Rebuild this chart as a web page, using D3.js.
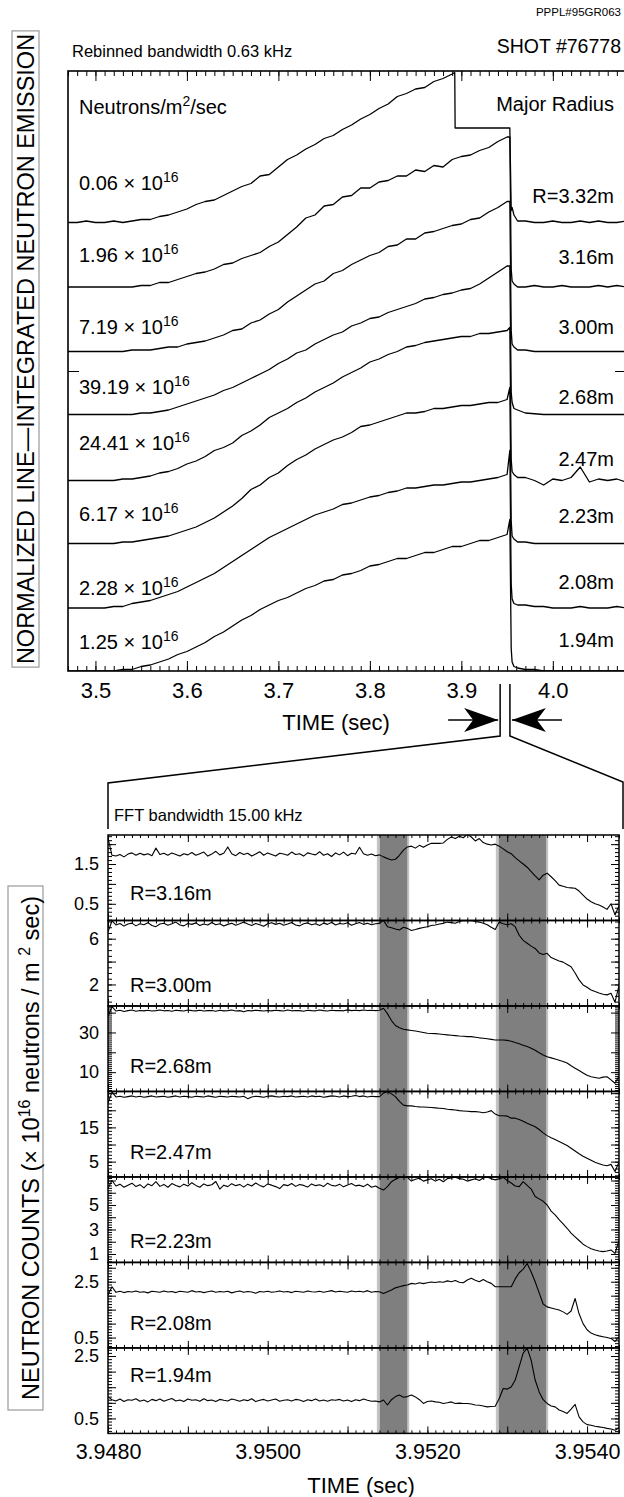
<!DOCTYPE html>
<html>
<head>
<meta charset="utf-8">
<script src="https://cdn.jsdelivr.net/npm/d3@7"></script>
<style>
  body { margin: 0; background: #fff; }
  svg text { font-family: "Liberation Sans", Arial, Helvetica, sans-serif; fill: #000; }
</style>
</head>
<body>
<script>
/* global d3 */
(function () {
  'use strict'

  // ---------- top plot: normalized line-integrated emission ----------
  var channels = ['R=3.32m', '3.16m', '3.00m', '2.68m', '2.47m', '2.23m', '2.08m', '1.94m']
  var peakFlux = ['0.06', '1.96', '7.19', '39.19', '24.41', '6.17', '2.28', '1.25']
  var baseOffsets = [2.99, 2.56, 2.13, 1.71, 1.27, 0.85, 0.42, 0]
  var riseStart = 3.47
  var riseStep = 0.01
  var dropTimes = [3.9530, 3.9545, 3.9555, 3.9575, 3.9615]
  var tailStart = 3.97
  var tailStep = 0.01
  var topMajor = [3.5, 3.6, 3.7, 3.8, 3.9, 4.0]
  var zoomMarks = [3.9424, 3.9531]

  var riseR332 = [0, 0, 0.01, 0, 0, 0.01, 0, 0.01, 0.02, 0.02, 0.04, 0.05, 0.07, 0.09, 0.12, 0.14, 0.15, 0.18, 0.21, 0.24, 0.26, 0.31, 0.32, 0.37, 0.42, 0.45, 0.49, 0.52, 0.56, 0.58, 0.62, 0.65, 0.69, 0.72, 0.76, 0.79, 0.84, 0.86, 0.89, 0.9, 0.94, 0.96, 0.99, 0.63, 0.63, 0.63, 0.63, 0.63, 0.63]
  var clipStepR332 = [[3.8928, 1.0], [3.8932, 0.63]]
  var riseR316 = [0, 0, 0, 0, 0, 0, 0, 0, 0.01, 0.01, 0.03, 0.03, 0.05, 0.07, 0.09, 0.1, 0.12, 0.15, 0.16, 0.19, 0.21, 0.23, 0.27, 0.3, 0.35, 0.4, 0.46, 0.48, 0.54, 0.55, 0.6, 0.61, 0.66, 0.66, 0.7, 0.71, 0.74, 0.74, 0.78, 0.77, 0.81, 0.8, 0.85, 0.87, 0.88, 0.91, 0.93, 0.97, 1.0]
  var riseR300 = [0, 0, 0, 0, 0, 0, 0, 0.01, 0.01, 0.01, 0.02, 0.03, 0.03, 0.05, 0.06, 0.07, 0.09, 0.11, 0.14, 0.15, 0.19, 0.21, 0.25, 0.28, 0.33, 0.37, 0.41, 0.45, 0.47, 0.52, 0.54, 0.58, 0.61, 0.64, 0.66, 0.7, 0.71, 0.75, 0.75, 0.79, 0.8, 0.82, 0.84, 0.85, 0.88, 0.89, 0.93, 0.96, 1.0]
  var riseR268 = [0, 0, 0, 0, 0, 0, 0, 0, 0.01, 0.01, 0.02, 0.03, 0.05, 0.07, 0.09, 0.11, 0.13, 0.16, 0.18, 0.21, 0.24, 0.27, 0.3, 0.34, 0.37, 0.41, 0.43, 0.47, 0.5, 0.53, 0.55, 0.59, 0.61, 0.64, 0.65, 0.68, 0.7, 0.72, 0.74, 0.77, 0.78, 0.8, 0.81, 0.83, 0.84, 0.87, 0.91, 0.95, 0.99]
  var riseR247 = [0, 0, 0, 0, 0, 0, 0.01, 0.01, 0.02, 0.03, 0.05, 0.06, 0.08, 0.11, 0.13, 0.16, 0.2, 0.22, 0.25, 0.3, 0.33, 0.37, 0.42, 0.45, 0.48, 0.52, 0.55, 0.59, 0.62, 0.65, 0.69, 0.72, 0.75, 0.79, 0.81, 0.84, 0.86, 0.89, 0.9, 0.92, 0.93, 0.94, 0.95, 0.96, 0.96, 0.98, 0.98, 0.99, 1.0]
  var riseR223 = [0, 0, 0, 0, 0, 0, 0.01, 0.01, 0.02, 0.03, 0.04, 0.05, 0.07, 0.09, 0.11, 0.14, 0.17, 0.21, 0.25, 0.3, 0.36, 0.39, 0.44, 0.47, 0.52, 0.56, 0.59, 0.63, 0.66, 0.69, 0.71, 0.74, 0.78, 0.79, 0.81, 0.83, 0.85, 0.87, 0.87, 0.88, 0.9, 0.9, 0.91, 0.92, 0.92, 0.93, 0.94, 0.94, 0.96]
  var riseR208 = [0, 0, 0, 0, 0, 0.01, 0.01, 0.03, 0.04, 0.05, 0.07, 0.09, 0.11, 0.14, 0.17, 0.2, 0.23, 0.27, 0.31, 0.35, 0.39, 0.43, 0.47, 0.5, 0.53, 0.56, 0.59, 0.62, 0.64, 0.66, 0.69, 0.7, 0.72, 0.74, 0.75, 0.77, 0.78, 0.8, 0.8, 0.81, 0.82, 0.82, 0.83, 0.84, 0.84, 0.85, 0.86, 0.87, 0.89]
  var riseR194 = [0, 0, 0, 0, 0, 0, 0.01, 0.01, 0.03, 0.04, 0.06, 0.08, 0.11, 0.13, 0.16, 0.19, 0.23, 0.26, 0.3, 0.34, 0.37, 0.41, 0.44, 0.47, 0.49, 0.52, 0.55, 0.57, 0.6, 0.61, 0.64, 0.65, 0.67, 0.7, 0.71, 0.73, 0.75, 0.75, 0.77, 0.79, 0.79, 0.81, 0.83, 0.83, 0.85, 0.87, 0.87, 0.89, 0.91]

  var dropR332 = [0.63, 0.08, 0.1, 0.05, 0.01]
  var dropR316 = [1.0, 0.12, 0.04, 0.02, 0.0]
  var dropR300 = [1.0, 0.14, 0.05, 0.03, 0.01]
  var dropR268 = [0.99, 0.15, 0.08, 0.04, 0.03]
  var dropR247 = [1.02, 0.14, 0.06, 0.04, 0.02]
  var dropR223 = [1.04, 0.15, 0.05, 0.03, 0.01]
  var dropR208 = [1.05, 0.16, 0.06, 0.03, 0.02]
  var dropR194 = [1.01, 0.15, 0.06, 0.03, 0.02]

  var tailR332 = [0.01, 0, 0, 0.01, 0, 0, 0.01, 0, 0.01, 0, 0, 0.01]
  var tailR316 = [0, 0.01, 0, 0, 0.01, 0, 0, 0, 0.01, 0, 0.01, 0]
  var tailR300 = [0.01, 0, 0, 0, 0, 0, 0, 0, 0, 0, 0, 0]
  var tailR268 = [0.01, 0.005, 0, 0, 0, 0, 0, 0, 0, 0, 0, 0]
  var tailR247 = [0.02, 0, -0.03, 0.01, 0, 0.02, 0.09, -0.01, 0.01, 0, 0.01, -0.01]
  var tailR223 = [0.01, 0, 0, 0, 0, 0, 0, 0, 0, 0, 0, 0]
  var tailR208 = [0.02, 0.01, 0.01, 0, 0, 0, 0.01, 0, 0, 0, 0.01, 0]
  var tailR194 = [0.01, 0.01, 0, 0, 0, 0, 0, 0, 0, 0, 0, 0]

  // ---------- bottom plot: FFT-filtered counts (x 10^16 n/m^2/s) ----------
  var fftRadii = ['R=3.16m', 'R=3.00m', 'R=2.68m', 'R=2.47m', 'R=2.23m', 'R=2.08m', 'R=1.94m']
  var fftStart = 3.9480
  var fftStep = 0.00005
  var fftDomain = [3.9480, 3.9544]
  var fftLabels = [3.948, 3.950, 3.952, 3.954]
  var panelDomains = [[0.08, 2.23], [0.12, 7.59], [0.28, 43.35], [0.53, 25.5], [0.31, 7.29], [0.13, 3.19], [0.02, 2.76]]
  var panelMajor = [0.5, 2, 10, 5, 1, 0.5, 0.5]
  var panelMinor = [0.1, 0.5, 1, 1, 0.2, 0.1, 0.1]
  var panelTickLabels = [[0.5, 1.5], [2, 6], [10, 30], [5, 15], [1, 3, 5], [0.5, 2.5], [0.5, 2.5]]
  var shadedBands = [[3.95138, 3.95176], [3.95287, 3.95350]]

  var fftR316 = [2.15, 1.72,
    1.70, 1.74, 1.68, 1.75, 1.78, 1.72, 1.77, 1.73, 1.76, 1.71,
    1.90, 1.74, 1.77, 1.72, 1.78, 1.74, 1.70, 1.76, 1.73, 1.79,
    1.72, 1.76, 1.80, 1.70, 1.75, 1.82, 1.73, 1.77, 1.93, 1.76,
    1.71, 1.79, 1.74, 1.77, 1.70, 1.75, 1.81, 1.72, 1.78, 1.74,
    1.70, 1.77, 1.75, 1.72, 1.80, 1.74, 1.76, 1.70, 1.78, 1.75,
    1.73, 1.81, 1.72, 1.76, 1.69, 1.78, 1.73, 1.80, 1.71, 1.77,
    1.75, 1.92, 1.76, 1.72, 1.75, 1.71,
    1.73, 1.68, 1.64, 1.60, 1.62, 1.72, 1.85, 1.93,
    1.95, 1.90, 1.97, 1.92, 1.98, 2.02, 2.02, 2.02, 2.03, 2.12,
    2.18, 2.14, 2.20, 2.16, 2.25, 2.18, 2.08, 2.14, 2.04, 2.00,
    1.98, 2.00, 1.95, 1.88, 1.81, 1.76, 1.66, 1.58, 1.50, 1.42,
    1.31, 1.20, 1.10, 1.22, 1.27, 1.18, 1.08, 0.97, 0.94, 0.91,
    0.90, 0.89, 0.82, 0.72, 0.62, 0.55, 0.50, 0.47, 0.42, 0.36,
    0.50, 0.22, 0.45]
  var fftR300 = [6.6, 7.55,
    7.20, 7.32, 7.10, 7.28, 7.36, 7.12, 7.30, 7.22, 7.40, 7.15,
    7.05, 7.28, 7.35, 7.18, 7.30, 7.45, 7.20, 7.12, 7.32, 7.25,
    7.38, 7.15, 7.28, 7.20, 7.42, 7.22, 7.30, 7.10, 7.25, 7.35,
    7.18, 7.30, 7.45, 7.28, 7.15, 7.32, 7.22, 7.08, 7.30, 7.40,
    7.25, 7.35, 7.18, 7.28, 7.42, 7.20, 7.12, 7.30, 7.38, 7.22,
    7.30, 7.15, 7.36, 7.25, 7.44, 7.20, 7.32, 7.28, 7.40, 7.18,
    7.30, 7.42, 7.25, 7.35, 7.22, 7.30,
    7.34, 7.60, 7.05, 6.95, 6.85, 6.76, 7.00, 6.90,
    6.72, 6.80, 6.90, 6.98, 7.05, 7.15, 7.20, 7.28, 7.34, 7.45,
    7.40, 7.35, 7.50, 7.60, 7.58, 7.60, 7.50, 7.45, 7.35, 7.22,
    7.00, 6.80, 7.45, 7.30, 7.22, 7.30, 7.05, 6.30, 5.85, 5.60,
    5.35, 5.15, 4.75, 4.62, 4.72, 4.35, 4.20, 4.05, 3.95, 3.75,
    3.55, 3.00, 2.40, 1.96, 1.75, 1.52, 1.38, 1.25, 1.15, 1.09,
    1.23, 0.45, 1.90]
  var fftR268 = [38, 43,
    40.8, 41.2, 40.6, 41.0, 41.3, 40.7, 41.1, 40.9, 41.2, 40.8,
    41.0, 41.3, 40.9, 41.1, 40.7, 41.2, 41.0, 40.8, 41.3, 41.0,
    40.9, 41.2, 40.8, 41.0, 41.1, 40.7, 41.2, 40.9, 41.0, 41.3,
    40.8, 41.0, 40.4, 41.1, 40.9, 41.2, 41.0, 40.8, 41.1, 40.9,
    41.2, 41.0, 40.8, 41.3, 40.9, 41.1, 41.0, 40.7, 41.2, 41.0,
    40.9, 41.3, 41.0, 40.8, 41.2, 41.0, 41.1, 40.9, 41.4, 41.0,
    41.2, 41.0, 41.3, 41.1, 41.2, 41.0,
    41.2, 42.2, 39.5, 36.0, 33.5, 32.4, 31.6, 31.3,
    31.0, 30.7, 30.4, 30.0, 29.6, 29.5, 29.4, 29.2, 29.0, 28.8,
    28.6, 28.4, 28.2, 28.1, 27.9, 27.9, 27.6, 27.3, 27.1, 26.8,
    26.5, 26.2, 26.2, 26.2, 26.0, 25.6, 24.9, 24.3, 23.6, 22.9,
    22.0, 21.0, 19.8, 18.7, 17.8, 17.2, 16.6, 16.0, 15.4, 14.6,
    13.2, 12.0, 10.8, 9.6, 8.4, 7.7, 7.3, 6.9, 7.5, 7.7,
    6.1, 4.4, 8.0]
  var fftR247 = [22.1, 25.3,
    23.9, 24.1, 23.8, 24.0, 24.2, 23.9, 24.1, 23.8, 24.0, 24.2,
    23.9, 24.0, 24.1, 23.8, 24.0, 24.2, 23.9, 24.1, 24.0, 23.8,
    24.1, 24.0, 23.9, 24.2, 24.0, 23.8, 24.1, 24.0, 23.9, 24.1,
    24.0, 23.9, 24.1, 23.4, 23.9, 24.1, 24.0, 23.8, 24.1, 24.2,
    24.0, 23.9, 24.1, 24.0, 24.2, 23.9, 24.0, 24.1, 23.9, 24.2,
    24.0, 24.1, 23.8, 24.0, 24.2, 24.1, 23.9, 24.2, 24.0, 24.1,
    24.3, 24.0, 24.2, 23.9, 24.1, 24.0,
    24.0, 25.0, 25.5, 24.8, 24.0, 22.6, 21.5, 21.3,
    21.3, 21.1, 21.0, 20.95, 20.9, 20.8, 20.7, 20.6, 20.5, 20.3,
    20.2, 20.1, 19.9, 19.8, 19.7, 19.6, 19.6, 19.5, 19.3, 19.5,
    19.9, 18.9, 18.4, 18.4, 18.3, 17.7, 17.7, 17.3, 16.8, 16.2,
    15.7, 15.2, 14.4, 13.4, 12.6, 12.0, 11.5, 10.9, 10.3, 9.7,
    8.9, 8.1, 7.3, 6.6, 6.0, 5.4, 4.8, 4.4, 4.0, 3.8,
    4.2, 2.1, 4.9]
  var fftR223 = [6.36, 7.0,
    6.55, 6.70, 6.45, 6.62, 6.78, 6.50, 6.66, 6.40, 6.72, 6.58,
    6.90, 6.52, 6.68, 6.45, 6.75, 6.60, 6.48, 6.70, 6.55, 6.82,
    6.60, 6.45, 6.72, 6.58, 6.65, 6.92, 6.30, 6.62, 6.50, 6.74,
    6.58, 6.68, 6.46, 6.70, 6.55, 6.80, 6.60, 6.48, 6.72, 6.62,
    6.50, 6.34, 6.66, 6.58, 6.75, 6.52, 6.68, 6.60, 6.46, 6.72,
    6.58, 6.65, 6.50, 6.78, 6.60, 6.55, 6.70, 6.48, 6.64, 6.75,
    6.56, 6.62, 6.50, 6.70, 6.45, 6.55,
    6.36, 6.22, 6.50, 6.90, 7.10, 7.25, 7.29, 7.25,
    6.95, 7.10, 7.18, 6.95, 7.05, 7.15, 6.95, 7.10, 6.90, 7.15,
    7.20, 7.26, 7.15, 7.10, 6.95, 7.05, 7.15, 7.00, 7.20, 7.29,
    7.15, 7.05, 7.15, 7.25, 7.00, 6.80, 6.55, 6.50, 6.90, 6.60,
    6.30, 5.70, 5.50, 5.30, 5.00, 4.50, 4.20, 3.80, 3.45, 3.10,
    2.70, 2.40, 2.10, 1.80, 1.60, 1.42, 1.33, 1.25, 1.19, 1.25,
    1.33, 1.05, 2.10]
  var fftR208 = [2.02, 2.32,
    2.12, 2.16, 2.11, 2.15, 2.13, 2.17, 2.12, 2.14, 2.10, 2.16,
    2.14, 2.12, 2.17, 2.13, 2.15, 2.11, 2.16, 2.14, 2.12, 2.18,
    2.13, 2.15, 2.11, 2.14, 2.17, 2.12, 2.15, 2.13, 2.16, 2.10,
    2.14, 2.17, 2.12, 2.15, 2.13, 2.09, 2.15, 2.13, 2.16, 2.12,
    2.14, 2.17, 2.13, 2.15, 2.11, 2.16, 2.14, 2.12, 2.17, 2.14,
    2.13, 2.16, 2.12, 2.15, 2.18, 2.13, 2.16, 2.14, 2.12, 2.17,
    2.14, 2.16, 2.13, 2.18, 2.12, 2.15,
    2.14, 2.08, 2.14, 2.20, 2.28, 2.32, 2.36, 2.38,
    2.44, 2.42, 2.46, 2.43, 2.46, 2.49, 2.47, 2.50, 2.48, 2.53,
    2.50, 2.54, 2.48, 2.46, 2.56, 2.62, 2.55, 2.50, 2.58, 2.50,
    2.44, 2.32, 2.32, 2.32, 2.32, 2.32, 2.60, 2.82, 2.95, 3.15,
    2.85, 2.50, 2.10, 1.70, 1.60, 1.56, 1.52, 1.49, 1.42, 1.33,
    1.45, 1.90, 1.35, 1.00, 0.78, 0.66, 0.60, 0.56, 0.53, 0.50,
    0.47, 0.36, 0.52]
  var fftR194 = [1.19, 1.1,
    1.06, 1.12, 1.04, 1.10, 1.08, 1.13, 1.05, 1.09, 1.03, 1.11,
    1.07, 1.12, 1.05, 1.10, 1.14, 1.06, 1.09, 1.04, 1.12, 1.08,
    1.10, 1.05, 1.13, 1.07, 1.09, 1.04, 1.11, 1.08, 1.06, 1.12,
    1.09, 1.05, 1.10, 1.07, 1.13, 1.04, 1.08, 1.11, 1.06, 1.09,
    1.12, 1.05, 1.08, 1.10, 1.06, 1.11, 1.09, 1.04, 1.10, 1.07,
    1.12, 1.06, 1.09, 1.05, 1.10, 1.08, 1.11, 1.06, 1.09, 1.04,
    1.10, 1.07, 1.12, 1.08, 1.05, 1.06,
    1.03, 1.09, 0.93, 1.10, 1.20, 1.25, 1.18, 1.20,
    1.25, 1.19, 1.10, 0.98, 1.04, 1.06, 1.03, 1.02, 0.98, 1.00,
    1.03, 0.98, 0.99, 0.98, 0.98, 0.96, 0.93, 0.92, 0.90, 0.87,
    0.88, 0.89, 1.14, 1.46, 1.44, 1.51, 1.73, 2.16, 2.59, 2.75,
    2.37, 1.73, 1.35, 1.10, 0.98, 0.90, 0.87, 0.77, 0.72, 0.66,
    0.80, 0.95, 0.55, 0.39, 0.30, 0.28, 0.25, 0.23, 0.21, 0.18,
    0.16, 0.12, 0.20]

  var riseSets = [riseR332, riseR316, riseR300, riseR268, riseR247, riseR223, riseR208, riseR194]
  var dropSets = [dropR332, dropR316, dropR300, dropR268, dropR247, dropR223, dropR208, dropR194]
  var tailSets = [tailR332, tailR316, tailR300, tailR268, tailR247, tailR223, tailR208, tailR194]
  var extraSets = [clipStepR332, [], [], [], [], [], [], []]
  var fftSets = [fftR316, fftR300, fftR268, fftR247, fftR223, fftR208, fftR194]

  // ---------- layout ----------
  var W = 624
  var H = 1497
  var font = '"Liberation Sans", Arial, Helvetica, sans-serif'
  var top = { left: 68, right: 626, top: 71, bottom: 671 }
  var bot = { left: 108, right: 619, top: 835, bottom: 1433.4 }
  var panelH = (bot.bottom - bot.top) / fftSets.length
  var leftLift = [40, 32, 25, 28, 38, 30, 20, 29]
  var rightLift = [27, 30, 25, 18, 22, 28, 26, 31]
  var rLabelLift = [27, 21, 25, 25, 21, 25, 58]

  var svg = d3.select('body').append('svg')
    .attr('width', W)
    .attr('height', H)
    .attr('font-family', font)

  var topX = d3.scaleLinear().domain([3.47, 4.08]).range([top.left, top.right])
  var topY = d3.scaleLinear().domain([0, 4]).range([top.bottom, top.top])
  var botX = d3.scaleLinear().domain(fftDomain).range([bot.left, bot.right])

  function stepTicks (lo, hi, step) {
    var out = []
    for (var k = Math.ceil(lo / step - 1e-6); k * step <= hi + 1e-9; k++) {
      out.push(+(k * step).toFixed(6))
    }
    return out
  }

  function ticks (g, axis, size) {
    g.call(axis.tickSize(size).tickFormat(''))
    g.select('.domain').remove()
    g.selectAll('line').attr('stroke', '#000').attr('stroke-width', 1)
    return g
  }

  // ---------- header texts ----------
  svg.append('text').attr('x', 621).attr('y', 16).attr('text-anchor', 'end')
    .attr('font-size', 11.5).text('PPPL#95GR063')
  svg.append('text').attr('x', 621).attr('y', 53).attr('text-anchor', 'end')
    .attr('font-size', 19.5).text('SHOT #76778')
  svg.append('text').attr('x', 72).attr('y', 57)
    .attr('font-size', 16.5).text('Rebinned bandwidth 0.63 kHz')

  // ---------- top plot ----------
  svg.append('clipPath').attr('id', 'clip-top').append('rect')
    .attr('x', top.left).attr('y', top.top)
    .attr('width', top.right - top.left).attr('height', top.bottom - top.top)

  var topLine = d3.line()
    .x(function (d) { return topX(d[0]) })
    .y(function (d) { return topY(d[1]) })

  var traces = svg.append('g').attr('clip-path', 'url(#clip-top)')
  riseSets.forEach(function (rise, c) {
    var pts = rise.map(function (v, k) { return [riseStart + k * riseStep, v] })
    dropSets[c].forEach(function (v, j) { pts.push([dropTimes[j], v]) })
    tailSets[c].forEach(function (v, k) { pts.push([tailStart + k * tailStep, v]) })
    extraSets[c].forEach(function (p) { pts.push(p) })
    pts.sort(function (a, b) { return a[0] - b[0] })
    traces.append('path')
      .attr('d', topLine(pts.map(function (p) { return [p[0], baseOffsets[c] + p[1]] })))
      .attr('fill', 'none')
      .attr('stroke', '#000')
      .attr('stroke-width', 1.3)
      .attr('stroke-linejoin', 'round')
  })

  svg.append('rect')
    .attr('x', top.left).attr('y', top.top)
    .attr('width', top.right - top.left).attr('height', top.bottom - top.top)
    .attr('fill', 'none').attr('stroke', '#000').attr('stroke-width', 1.6)

  var topMinor = stepTicks(3.47, 4.08, 0.01)
  ticks(svg.append('g').attr('transform', 'translate(0,' + top.bottom + ')'), d3.axisBottom(topX).tickValues(topMinor), -5)
  ticks(svg.append('g').attr('transform', 'translate(0,' + top.bottom + ')'), d3.axisBottom(topX).tickValues(topMajor), -10)
  ticks(svg.append('g').attr('transform', 'translate(0,' + top.top + ')'), d3.axisTop(topX).tickValues(topMinor), -5)
  ticks(svg.append('g').attr('transform', 'translate(0,' + top.top + ')'), d3.axisTop(topX).tickValues(topMajor), -10)
  ticks(svg.append('g').attr('transform', 'translate(' + top.left + ',0)'), d3.axisLeft(topY).tickValues([2]), -11)
  ticks(svg.append('g').attr('transform', 'translate(' + top.right + ',0)'), d3.axisRight(topY).tickValues([2]), -11)

  var topLabels = svg.append('g').attr('transform', 'translate(0,' + top.bottom + ')')
    .call(d3.axisBottom(topX).tickValues(topMajor).tickSize(0).tickPadding(11).tickFormat(d3.format('.1f')))
  topLabels.select('.domain').remove()
  topLabels.selectAll('text').attr('font-size', 22).attr('font-family', font).attr('fill', '#000')

  svg.append('text').attr('x', 336).attr('y', 730).attr('text-anchor', 'middle')
    .attr('font-size', 22).text('TIME (sec)')

  // labels inside the top plot
  var nl = svg.append('text').attr('x', 79).attr('y', 114).attr('font-size', 20)
  nl.append('tspan').text('Neutrons/m')
  nl.append('tspan').attr('dy', -8).attr('font-size', 14).text('2')
  nl.append('tspan').attr('dy', 8).text('/sec')
  svg.append('text').attr('x', 614).attr('y', 111).attr('text-anchor', 'end')
    .attr('font-size', 20).text('Major Radius')

  peakFlux.forEach(function (f, c) {
    var yb = topY(baseOffsets[c]) - leftLift[c] + 7
    var t = svg.append('text').attr('x', 79).attr('y', yb).attr('font-size', 20)
    t.append('tspan').text(f + ' \u00d7 10')
    t.append('tspan').attr('dy', -8).attr('font-size', 14).text('16')
  })
  channels.forEach(function (r, c) {
    svg.append('text')
      .attr('x', 614).attr('y', topY(baseOffsets[c]) - rightLift[c] + 7)
      .attr('text-anchor', 'end').attr('font-size', 20).text(r)
  })

  // rotated label inside a grey box; xs = page x-extent of the box
  function boxedLabel (x, y, parts, xs, padY) {
    var g = svg.append('g').attr('transform', 'translate(' + x + ',' + y + ') rotate(-90)')
    var rect = g.append('rect')
    var t = g.append('text').attr('text-anchor', 'middle').attr('font-size', 23.5)
    parts.forEach(function (p) {
      var s = t.append('tspan').text(p.text)
      if (p.sup) s.attr('dy', -9).attr('font-size', 16)
      if (p.down) s.attr('dy', 9)
    })
    var b = t.node().getBBox()
    // local y maps to page x (page x = x + local y)
    rect.attr('x', b.x - padY).attr('y', xs[0] - x)
      .attr('width', b.width + 2 * padY).attr('height', xs[1] - xs[0])
      .attr('fill', 'none').attr('stroke', '#9a9a9a').attr('stroke-width', 1.2)
  }

  boxedLabel(34, 349, [{ text: 'NORMALIZED LINE\u2014INTEGRATED NEUTRON EMISSION' }], [12, 39], 3)

  // ---------- zoom marker ----------
  var xa = topX(zoomMarks[0])
  var xb = topX(zoomMarks[1])
  var link = d3.line()
  svg.append('path')
    .attr('d', link([[xa, 684], [xa, 736], [bot.left, 783], [bot.left, 829]]))
    .attr('fill', 'none').attr('stroke', '#000').attr('stroke-width', 1.5)
  svg.append('path')
    .attr('d', link([[xb, 684], [xb, 736], [bot.right + 4, 782], [bot.right + 4, 829]]))
    .attr('fill', 'none').attr('stroke', '#000').attr('stroke-width', 1.5)

  function arrow (tip, dir) {
    var ay = 720
    svg.append('line')
      .attr('x1', tip - dir * 50).attr('x2', tip).attr('y1', ay).attr('y2', ay)
      .attr('stroke', '#000').attr('stroke-width', 1.6)
    svg.append('path')
      .attr('d', link([[tip, ay], [tip - dir * 34, ay - 12], [tip - dir * 25, ay], [tip - dir * 34, ay + 12]]) + 'Z')
      .attr('fill', '#000')
  }
  arrow(xa - 2, 1)
  arrow(xb + 2, -1)

  svg.append('text').attr('x', 114).attr('y', 821).attr('font-size', 16.5)
    .text('FFT bandwidth 15.00 kHz')

  // ---------- bottom panels ----------
  var bandG = svg.append('g')
  shadedBands.forEach(function (b) {
    var x0 = botX(b[0])
    var x1 = botX(b[1])
    bandG.append('rect').attr('x', x0 - 1).attr('y', bot.top)
      .attr('width', x1 - x0 + 2).attr('height', bot.bottom - bot.top)
      .attr('fill', '#c4c4c4')
    bandG.append('rect').attr('x', x0 + 2).attr('y', bot.top)
      .attr('width', x1 - x0 - 3).attr('height', bot.bottom - bot.top)
      .attr('fill', '#7f7f7f')
  })

  var xMajor = stepTicks(fftDomain[0], fftDomain[1], 0.001)
  var xMinor = stepTicks(fftDomain[0], fftDomain[1], 0.0001)

  fftSets.forEach(function (vals, p) {
    var y0 = bot.top + p * panelH
    var y1 = y0 + panelH
    var y = d3.scaleLinear().domain(panelDomains[p]).range([y1, y0])

    svg.append('clipPath').attr('id', 'clip-p' + p).append('rect')
      .attr('x', bot.left).attr('y', y0).attr('width', bot.right - bot.left).attr('height', panelH)

    var line = d3.line()
      .x(function (d, i) { return botX(fftStart + i * fftStep) })
      .y(function (d) { return y(d) })

    svg.append('path')
      .attr('clip-path', 'url(#clip-p' + p + ')')
      .attr('d', line(vals))
      .attr('fill', 'none').attr('stroke', '#000').attr('stroke-width', 1.1)
      .attr('stroke-linejoin', 'round')

    svg.append('rect')
      .attr('x', bot.left).attr('y', y0).attr('width', bot.right - bot.left).attr('height', panelH)
      .attr('fill', 'none').attr('stroke', '#000').attr('stroke-width', 1.5)

    ticks(svg.append('g').attr('transform', 'translate(0,' + y1 + ')'), d3.axisBottom(botX).tickValues(xMinor), -3)
    ticks(svg.append('g').attr('transform', 'translate(0,' + y1 + ')'), d3.axisBottom(botX).tickValues(xMajor), -7)
    ticks(svg.append('g').attr('transform', 'translate(0,' + y0 + ')'), d3.axisTop(botX).tickValues(xMinor), -3)
    ticks(svg.append('g').attr('transform', 'translate(0,' + y0 + ')'), d3.axisTop(botX).tickValues(xMajor), -7)

    var dom = panelDomains[p]
    var yMinor = stepTicks(dom[0], dom[1], panelMinor[p])
    var yMajor = stepTicks(dom[0], dom[1], panelMajor[p])
    ticks(svg.append('g').attr('transform', 'translate(' + bot.left + ',0)'), d3.axisLeft(y).tickValues(yMinor), -4)
    ticks(svg.append('g').attr('transform', 'translate(' + bot.left + ',0)'), d3.axisLeft(y).tickValues(yMajor), -8)
    ticks(svg.append('g').attr('transform', 'translate(' + bot.right + ',0)'), d3.axisRight(y).tickValues(yMinor), -4)
    ticks(svg.append('g').attr('transform', 'translate(' + bot.right + ',0)'), d3.axisRight(y).tickValues(yMajor), -8)

    var yl = svg.append('g').attr('transform', 'translate(' + bot.left + ',0)')
      .call(d3.axisLeft(y).tickValues(panelTickLabels[p]).tickSize(0).tickPadding(9).tickFormat(d3.format('')))
    yl.select('.domain').remove()
    yl.selectAll('text').attr('font-size', 18).attr('font-family', font).attr('fill', '#000')

    svg.append('text')
      .attr('x', 130).attr('y', y1 - rLabelLift[p] + 7)
      .attr('font-size', 20).text(fftRadii[p])
  })

  var bl = svg.append('g').attr('transform', 'translate(0,' + bot.bottom + ')')
    .call(d3.axisBottom(botX).tickValues(fftLabels).tickSize(0).tickPadding(10).tickFormat(d3.format('.4f')))
  bl.select('.domain').remove()
  bl.selectAll('text').attr('font-size', 21.5).attr('font-family', font).attr('fill', '#000')

  svg.append('text').attr('x', 361).attr('y', 1493).attr('text-anchor', 'middle')
    .attr('font-size', 22).text('TIME (sec)')

  boxedLabel(39, 1148, [
    { text: 'NEUTRON COUNTS (\u00d7 10' },
    { text: '16', sup: true },
    { text: ' neutrons / m ', down: true },
    { text: '2', sup: true },
    { text: ' sec)', down: true }
  ], [8, 43], 10)
}())
</script>
</body>
</html>
